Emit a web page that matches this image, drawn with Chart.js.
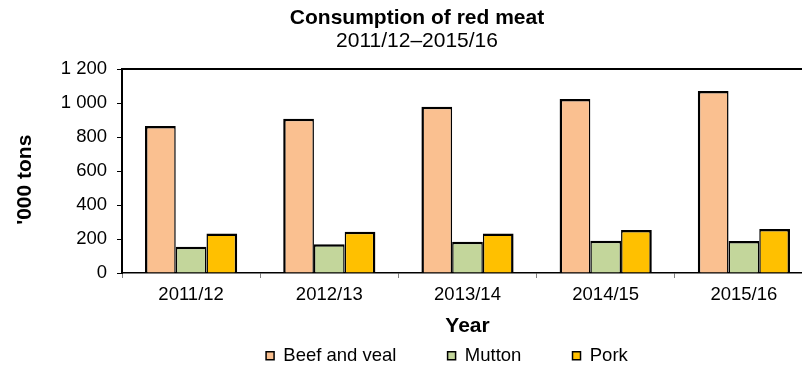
<!DOCTYPE html>
<html>
<head>
<meta charset="utf-8">
<title>Consumption of red meat</title>
<script src="https://cdn.jsdelivr.net/npm/chart.js@4.4.1/dist/chart.umd.min.js"></script>
<style>
    body { margin: 0; background: #fff; }
    .chart-box { width: 802px; height: 367px; overflow: hidden; }
</style>
</head>
<body>
<div class="chart-box">
    <canvas id="meatChart" width="834" height="375" style="width: 834px; height: 375px;"></canvas>
</div>
<script>
// 数据
const years = ['2011/12', '2012/13', '2013/14', '2014/15', '2015/16'];
const beefValues = [865, 908, 978, 1024, 1071];
const muttonValues = [155, 169, 184, 190, 188];
const porkValues = [233, 243, 233, 253, 259];
const yTicks = [0, 200, 400, 600, 800, 1000, 1200];

Chart.defaults.font.family = "'Liberation Sans', Arial, sans-serif";
Chart.defaults.font.size = 18.5;
Chart.defaults.color = '#000';

// 千位用空格分隔
function formatTick(value) {
    if (value >= 1000) {
        return Math.floor(value / 1000) + ' ' + String(value % 1000).padStart(3, '0');
    }
    return String(value);
}

// 绘图区上边框
const topBorder = {
    id: 'topBorder',
    beforeDatasetsDraw(chart) {
        const { ctx, chartArea } = chart;
        ctx.save();
        ctx.strokeStyle = '#000';
        ctx.lineWidth = 2;
        ctx.beginPath();
        ctx.moveTo(chartArea.left, chartArea.top);
        ctx.lineTo(chartArea.right, chartArea.top);
        ctx.stroke();
        ctx.restore();
    }
};

const ctx = document.getElementById('meatChart').getContext('2d');

const meatChart = new Chart(ctx, {
    type: 'bar',
    data: {
        labels: years,
        datasets: [
            {
                label: 'Beef and veal',
                data: beefValues,
                backgroundColor: '#FAC090',
                borderColor: '#000',
                borderWidth: { top: 2.5, left: 2.5, right: 1.5, bottom: 0 }
            },
            {
                label: 'Mutton',
                data: muttonValues,
                backgroundColor: '#C3D69B',
                borderColor: '#000',
                borderWidth: { top: 2.5, left: 1.5, right: 1.5, bottom: 0 }
            },
            {
                label: 'Pork',
                data: porkValues,
                backgroundColor: '#FFC000',
                borderColor: '#000',
                borderWidth: { top: 2.5, left: 1.5, right: 2.5, bottom: 0 }
            }
        ]
    },
    options: {
        responsive: false,
        animation: false,
        categoryPercentage: 0.667,
        barPercentage: 1.0,
        inflateAmount: 0,
        layout: { padding: 0 },
        plugins: {
            title: {
                display: true,
                text: 'Consumption of red meat',
                font: { size: 21, weight: 'bold', lineHeight: 1.2 },
                padding: { top: 6, bottom: 0 }
            },
            subtitle: {
                display: true,
                text: '2011/12–2015/16',
                color: '#000',
                font: { size: 21, weight: 'normal', lineHeight: 1.0 },
                padding: { top: 0, bottom: 16.8 }
            },
            legend: {
                position: 'bottom',
                fullSize: false,
                labels: {
                    boxWidth: 8,
                    boxHeight: 8,
                    padding: 10,
                    generateLabels: chart => Chart.defaults.plugins.legend.labels.generateLabels(chart).map(item => ({
                        ...item,
                        text: item.text + '        ',
                        lineWidth: 1.5,
                        strokeStyle: '#000'
                    }))
                }
            },
            tooltip: { enabled: false }
        },
        scales: {
            x: {
                grid: {
                    drawOnChartArea: false,
                    drawTicks: true,
                    tickLength: 5,
                    color: '#808080'
                },
                border: { color: '#000', width: 1.5 },
                ticks: { padding: 6 },
                title: {
                    display: true,
                    text: 'Year',
                    font: { size: 21, weight: 'bold', lineHeight: 1.0 },
                    padding: { top: 5, bottom: 0 }
                },
                afterFit(scale) {
                    scale.height = 63.5;
                }
            },
            y: {
                min: yTicks[0],
                max: yTicks[yTicks.length - 1],
                grid: {
                    drawOnChartArea: false,
                    drawTicks: true,
                    tickLength: 5,
                    color: '#000'
                },
                border: { color: '#000', width: 2 },
                ticks: {
                    stepSize: yTicks[1] - yTicks[0],
                    padding: 10,
                    callback: value => formatTick(value)
                },
                title: {
                    display: true,
                    // 末尾空格让标题略向下偏移
                    text: "'000 tons   ",
                    font: { size: 21, weight: 'bold' },
                    padding: { top: 12.4, bottom: 0 }
                },
                afterFit(scale) {
                    scale.width = 122;
                }
            },
            // 右侧留白，让标题居中位置与原图一致
            yRight: {
                type: 'linear',
                position: 'right',
                grid: { display: false },
                border: { display: false },
                ticks: { display: false },
                afterFit(scale) {
                    scale.width = 21;
                }
            }
        }
    },
    plugins: [topBorder]
});
</script>
</body>
</html>
